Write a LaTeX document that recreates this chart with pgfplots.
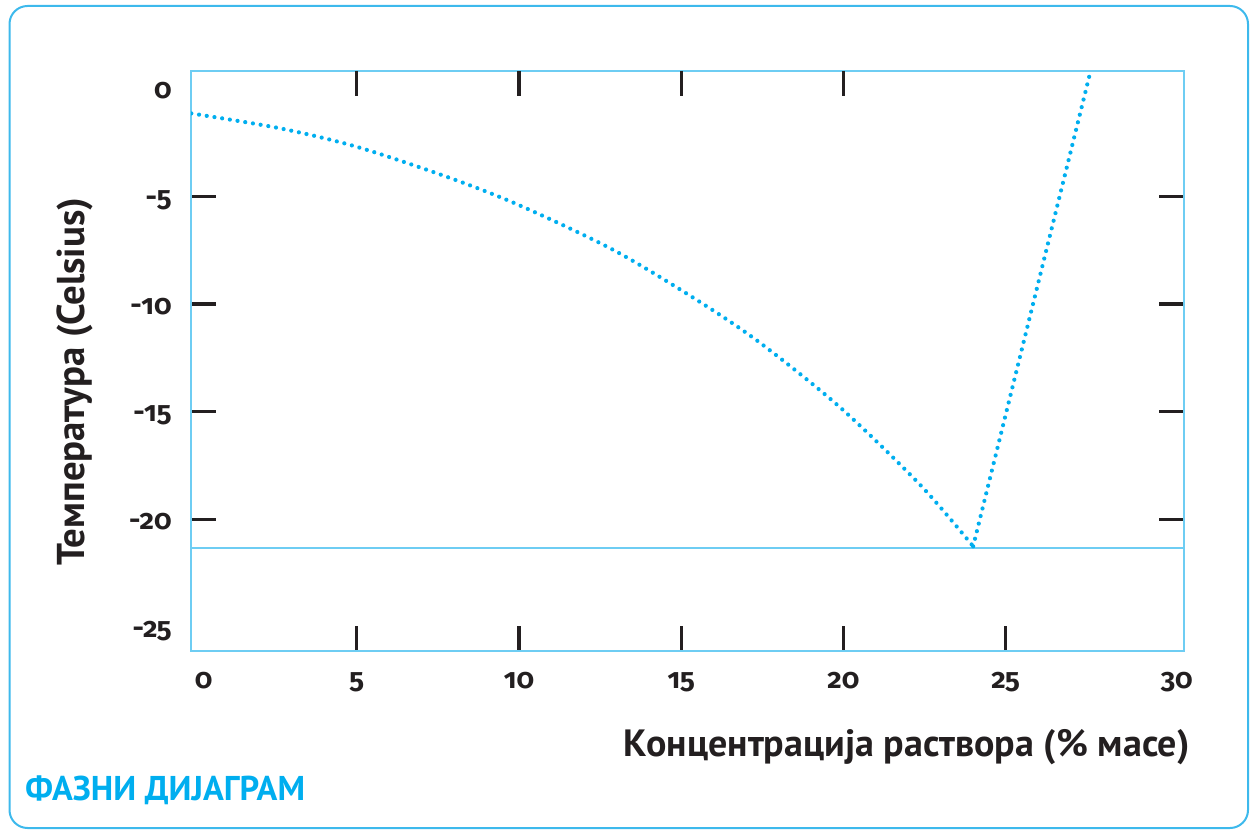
\documentclass[border=0pt]{standalone}
\usepackage{pgfplots}
\pgfplotsset{compat=1.18}
\usepackage{fontspec}
\setmainfont{PT Sans}
\newfontfamily\numfont{Fira Sans}[Numbers=OldStyle]

\definecolor{framecol}{RGB}{61,185,236}
\definecolor{axiscol}{RGB}{110,205,243}
\definecolor{curvecol}{RGB}{0,174,239}
\definecolor{inkcol}{RGB}{35,31,32}

\pgfplotsset{
  phasebox/.style={
    at={(95.5pt,89.5pt)}, anchor=south west,
    scale only axis, width=496.5pt, height=290pt,
    xmin=-0.11, xmax=30.5, ymin=-26.11, ymax=0.82,
    tick align=inside,
    major tick length=12.5pt,
    tick style={inkcol, line width=1.6pt},
  },
  dotline/.style={curvecol, line width=2.1pt, line cap=round, dash pattern=on 0pt off 3.9pt},
}

\begin{document}
\begin{tikzpicture}
\useasboundingbox (0,0) rectangle (625.5pt,415pt);
\draw[framecol, line width=1pt, rounded corners=9pt] (4.75pt,1pt) rectangle (624pt,412pt);

\begin{axis}[
  phasebox,
  axis line style={axiscol, line width=1pt},
  xtick={5,10,15,20,25}, ytick={-20,-15,-10,-5},
  extra x ticks={0,30}, extra y ticks={-25,0},
  extra tick style={major tick length=0pt},
  extra x tick style={xticklabel style={xshift=4.5pt}},
  xtick pos=lower, ytick pos=both, yticklabel pos=left,
  /pgf/number format/assume math mode=true,
  ticklabel style={font=\numfont\bfseries\fontsize{14}{16}\selectfont, text=inkcol},
  xticklabel style={anchor=base, inner sep=0pt, yshift=-18.5pt},
  yticklabel style={anchor=base east, inner sep=0pt, xshift=-9.5pt, yshift=-5pt},
  xlabel={Концентрација раствора (\% масе)},
  xlabel style={at={(rel axis cs:1.00604,-0.18224)}, anchor=base east, inner sep=0pt,
    font=\bfseries\fontsize{19}{21}\selectfont, text=inkcol},
  ylabel={Температура (Celsius)},
  ylabel style={at={(rel axis cs:-0.10675,0.4647)}, anchor=base, inner sep=0pt,
    font=\bfseries\fontsize{19.4}{21}\selectfont, text=inkcol},
]
% eutectic line
\addplot[axiscol, line width=1pt] coordinates {(-0.11,-21.31) (30.5,-21.31)};
% freezing curve
\addplot[dotline, smooth, tension=0.5]
  coordinates {
    (-0.10,-1.15) (2.63,-1.84) (5.00,-2.70) (7.77,-4.09) (9.99,-5.40)
    (12.91,-7.49) (15.48,-9.81) (17.43,-11.80) (19.90,-14.80) (22.37,-18.40)
    (24.00,-21.25)
  };
% solubility line
\addplot[dotline] coordinates {(24.00,-21.25) (27.62,0.82)};
\end{axis}

% top ticks
\begin{axis}[
  phasebox,
  axis line style={draw=none},
  xtick={5,10,15,20}, xticklabels={}, xtick pos=upper,
  ytick=\empty,
]
\end{axis}

\node[anchor=base west, inner sep=0pt, text=curvecol,
  font=\bfseries\fontsize{17.2}{19}\selectfont] at (12.5pt,14.65pt) {ФАЗНИ ДИЈАГРАМ};
\end{tikzpicture}
\end{document}
